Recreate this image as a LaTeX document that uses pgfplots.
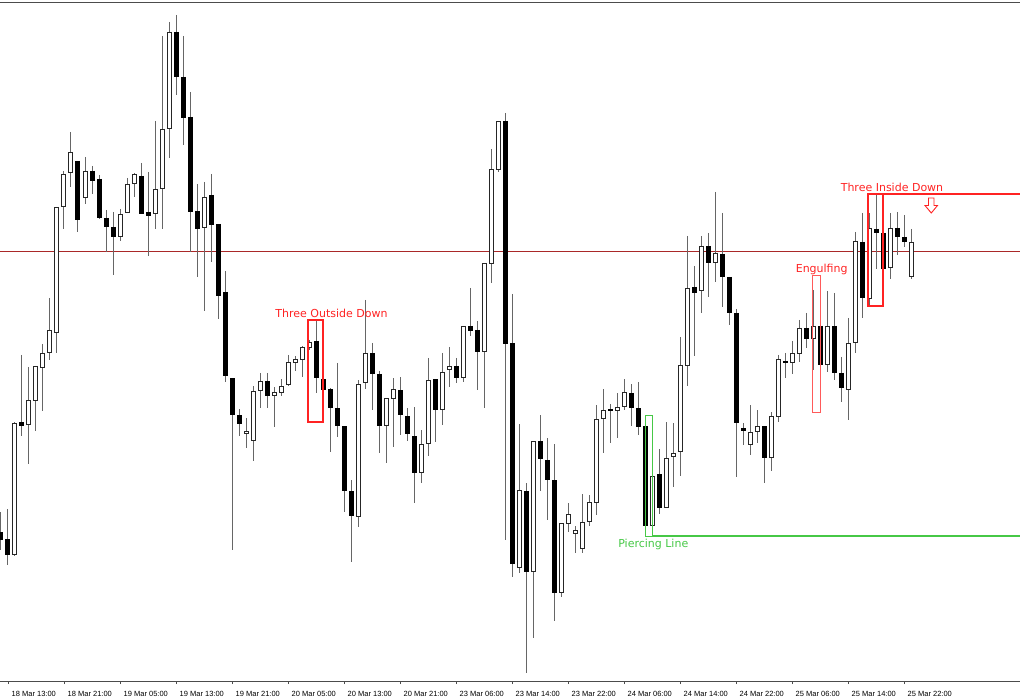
\documentclass[border=0pt]{standalone}
\usepackage{pgfplots}
\pgfplotsset{compat=1.18}
\usepackage{pgfplotstable}
\usepackage{fontspec}
\setmainfont{Liberation Sans}
\newfontfamily\annfont{DejaVu Sans}
\definecolor{annred}{RGB}{255,35,35}
\definecolor{lvlred}{RGB}{170,40,40}
\definecolor{pgreen}{RGB}{70,200,70}

% candles: x position, high, low, body top, body bottom (screen units, larger = lower price)
\pgfplotstableread{
x hi lo top bot
15 422 556 423 555
29 367 464 400 425
36 366 431 366 401
43 344 411 353 368
50 298 360 330 353
57 207 353 207 333
64 171 229 174 207
71 132 187 152 173
85 157 204 171 198
120 209 241 214 237
127 178 213 184 213
134 173 197 174 184
155 121 229 189 214
162 36 229 129 189
169 22 158 32 129
204 182 311 197 228
246 418 448 431 434
253 386 461 391 441
260 373 408 381 391
274 387 427 392 396
281 379 396 386 393
288 355 386 362 385
295 356 371 359 363
302 346 377 347 360
309 340 350 342 348
358 380 527 384 517
365 300 389 353 383
386 398 463 398 426
393 378 447 389 399
421 430 483 444 473
428 358 456 380 444
442 353 425 372 410
449 347 387 366 370
463 326 382 326 378
484 263 408 263 352
491 149 283 169 264
498 121 172 121 170
519 424 573 490 568
533 441 638 441 572
561 523 597 523 593
568 503 532 514 524
575 526 553 530 534
582 494 553 522 549
589 495 526 502 522
596 405 515 419 503
603 389 453 410 419
617 393 438 407 411
624 379 410 392 407
652 455 536 476 526
666 422 508 458 508
673 423 487 453 457
680 337 476 365 452
687 236 386 288 366
701 236 313 246 291
715 192 282 253 263
750 405 455 432 445
757 410 443 426 432
771 412 471 416 458
778 355 422 359 417
792 341 374 353 363
799 320 362 328 354
813 290 370 326 339
827 291 372 326 365
848 318 420 343 390
855 232 353 241 343
869 213 306 228 299
890 213 279 228 268
911 229 279 242 277
}\bull

\pgfplotstableread{
x hi lo top bot
1 512 550 532 540
8 509 565 539 555
22 355 436 422 426
78 161 232 161 220
92 166 194 171 181
99 175 219 179 218
106 210 252 218 227
113 212 275 227 237
141 163 214 176 214
148 172 256 212 216
176 15 95 32 77
183 36 145 77 118
190 92 252 117 212
197 184 277 211 229
211 174 262 195 225
218 224 319 224 296
225 271 382 292 376
232 378 550 378 415
239 409 436 415 424
267 373 408 381 396
316 320 393 341 378
323 362 392 379 390
330 388 452 389 408
337 363 437 408 426
344 426 512 426 491
351 480 562 491 516
372 343 410 353 374
379 371 453 374 426
400 377 435 390 415
407 408 441 416 434
414 407 503 436 473
435 379 442 379 410
456 358 383 366 378
470 288 336 326 331
477 321 390 330 352
505 113 540 121 344
512 294 577 343 564
526 483 673 491 572
540 415 491 441 459
547 438 520 460 480
554 444 621 480 593
610 404 443 409 411
631 384 426 393 408
638 382 435 408 427
645 415 526 426 526
659 449 514 474 508
694 266 356 287 293
708 233 297 246 263
722 213 307 254 277
729 277 325 277 313
736 309 477 313 423
743 423 445 428 431
764 426 483 426 458
785 353 378 361 363
806 313 348 328 339
820 276 412 326 365
834 293 380 326 373
841 357 402 373 388
862 213 318 242 298
876 194 269 229 233
883 213 300 233 269
897 212 255 228 237
904 215 247 237 242
}\bear

\pgfplotsset{
  candle/.style 2 args={draw=none, no markers, forget plot,
    error bars/.cd, y dir=minus, y explicit, error mark=none,
    error bar style={line width=#1, draw=#2, solid}},
}

\begin{document}
\begin{tikzpicture}[x=1pt,y=1pt]
\begin{axis}[
  at={(0pt,-2pt)}, anchor=north west,
  scale only axis, width=1020pt, height=679pt,
  xmin=0, xmax=1020, ymin=-681, ymax=-2,
  separate axis lines,
  x axis line style={draw=black!70, line width=0.8pt},
  y axis line style={draw=none},
  ytick=\empty,
  xtick={8,64,...,904},
  xticklabels={18 Mar 13:00,18 Mar 21:00,19 Mar 05:00,19 Mar 13:00,19 Mar 21:00,20 Mar 05:00,20 Mar 13:00,20 Mar 21:00,23 Mar 06:00,23 Mar 14:00,23 Mar 22:00,24 Mar 06:00,24 Mar 14:00,24 Mar 22:00,25 Mar 06:00,25 Mar 14:00,25 Mar 22:00},
  xtick pos=bottom,
  xtick align=outside,
  major tick length=3pt,
  tick style={black!70, line width=0.6pt},
  xticklabel style={font=\fontsize{7.5}{8}\selectfont, anchor=base west, inner sep=0pt, xshift=3.5pt, yshift=-12pt},
  clip=true,
]
% level line
\addplot[lvlred, line width=0.8pt, forget plot] coordinates {(0,-251) (1020,-251)};
% wicks
\addplot[candle={1pt}{black!60}]
  table[x=x, y expr=-\thisrow{hi}, y error expr=\thisrow{lo}-\thisrow{hi}] {\bull};
\addplot[candle={1pt}{black!60}]
  table[x=x, y expr=-\thisrow{hi}, y error expr=\thisrow{lo}-\thisrow{hi}] {\bear};
% bodies
\addplot[candle={5pt}{black}]
  table[x=x, y expr=-\thisrow{top}, y error expr=\thisrow{bot}-\thisrow{top}] {\bear};
\addplot[candle={5pt}{black!85}]
  table[x=x, y expr=-\thisrow{top}, y error expr=\thisrow{bot}-\thisrow{top}] {\bull};
\addplot[candle={3pt}{white}]
  table[x=x, y expr=-\thisrow{top}-1, y error expr=\thisrow{bot}-\thisrow{top}-2] {\bull};
% pattern markers
\addplot[annred, line width=2pt, line join=miter, forget plot] coordinates {(308,-320) (323,-320) (323,-422) (308,-422)} -- cycle;
\addplot[annred!75, line width=1pt, line join=miter, forget plot] coordinates {(812.5,-276) (820.5,-276) (820.5,-412) (812.5,-412)} -- cycle;
\addplot[annred, line width=2pt, line join=miter, forget plot] coordinates {(868,-194) (883,-194) (883,-306) (868,-306)} -- cycle;
\addplot[annred, line width=2pt, forget plot] coordinates {(883,-194) (1020,-194)};
\addplot[pgreen, line width=1pt, line join=miter, forget plot] coordinates {(645,-415) (652,-415) (652,-536) (645,-536)} -- cycle;
\addplot[pgreen, line width=1.5pt, forget plot] coordinates {(652,-536) (1020,-536)};
% arrow
\addplot[annred, fill=white, line width=0.9pt, line join=miter, forget plot] coordinates {(928.5,-198) (934,-198) (934,-205.5) (937.5,-205.5) (931.25,-213) (925,-205.5) (928.5,-205.5)} -- cycle;
% labels
\node[text=annred, font=\annfont\fontsize{11}{13}\selectfont, anchor=base, inner sep=0pt] at (axis cs:331.5,-318) {Three Outside Down};
\node[text=annred, font=\annfont\fontsize{11}{13}\selectfont, anchor=base, inner sep=0pt] at (axis cs:821.7,-273) {Engulfing};
\node[text=annred, font=\annfont\fontsize{11}{13}\selectfont, anchor=base, inner sep=0pt] at (axis cs:892,-192) {Three Inside Down};
\node[text=pgreen, font=\annfont\fontsize{11}{13}\selectfont, anchor=base, inner sep=0pt] at (axis cs:653.3,-547) {Piercing Line};
\end{axis}
\pgfresetboundingbox
\path[use as bounding box] (0,0) rectangle (1020,-700);
\end{tikzpicture}
\end{document}
